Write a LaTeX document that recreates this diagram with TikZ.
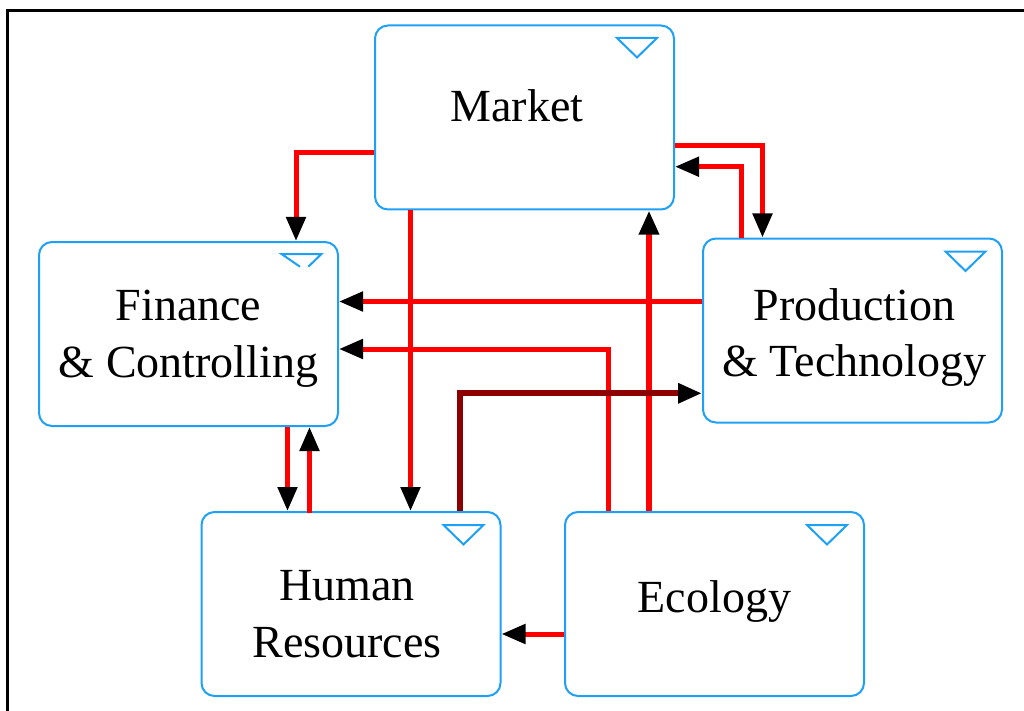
\documentclass[tikz,border=0pt]{standalone}
\usepackage{fontspec}
\setmainfont{Liberation Serif}
\usetikzlibrary{arrows.meta}
\definecolor{boxblue}{RGB}{30,160,245}
\definecolor{linered}{RGB}{255,0,0}
\definecolor{darkline}{RGB}{140,0,0}
\begin{document}
\begin{tikzpicture}[x=1pt,y=-1pt,
  box/.style={draw=boxblue,line width=2pt,rounded corners=13pt,minimum width=299pt,minimum height=184pt,inner sep=0pt},
  lbl/.style={font=\fontsize{46}{56}\selectfont,anchor=base,inner sep=0pt},
  tri/.style={draw=boxblue,line width=2pt,line join=miter},
  link/.style={draw=linered,line width=5pt,-{Triangle[length=24pt,width=19pt,color=black]}},
  dlink/.style={link,draw=darkline,line width=6pt}]
\useasboundingbox (0,0) rectangle (1024,711);
% frame
\draw[line width=3pt] (7.5,711) -- (7.5,10.5) -- (1024,10.5);
% boxes
\node[box] (market) at (524.5,117.5) {};
\node[box] (fin) at (188.5,334) {};
\node[box] (prod) at (852.5,330.5) {};
\node[box] (hr) at (351,604) {};
\node[box] (eco) at (714.5,604) {};
% corner markers
\draw[tri] ([shift={(-58pt,-13.5pt)}]market.north east) -- ++(40pt,0pt) -- ++(-20pt,-19.5pt) -- cycle;
\draw[tri] ([shift={(-57.5pt,-14pt)}]prod.north east) -- ++(40pt,0pt) -- ++(-20pt,-19.5pt) -- cycle;
\draw[tri] ([shift={(-58pt,-14pt)}]hr.north east) -- ++(40pt,0pt) -- ++(-20pt,-19.5pt) -- cycle;
\draw[tri] ([shift={(-58pt,-14pt)}]eco.north east) -- ++(40pt,0pt) -- ++(-20pt,-19.5pt) -- cycle;
\draw[tri] ([shift={(-39pt,-25.7pt)}]fin.north east) -- ([shift={(-57.5pt,-13pt)}]fin.north east) -- ([shift={(-17.5pt,-13pt)}]fin.north east) -- ([shift={(-30.7pt,-25.7pt)}]fin.north east);
% labels
\node[lbl] (mkt-t) at (517,121.7) {Market};
\node[lbl] (fin-t1) at (188.5,320) {Finance};
\node[lbl] (fin-t2) at (188.5,377) {\& Controlling};
\node[lbl] (prod-t1) at (854.5,320) {Production};
\node[lbl] (prod-t2) at (854.5,376.7) {\& Technology};
\node[lbl] (hr-t1) at (347,600.7) {Human};
\node[lbl] (hr-t2) at (347,657.3) {Resources};
\node[lbl] (eco-t) at (714.5,612.7) {Ecology};
% connectors
\draw[link] ([yshift=-35.5pt]market.west) -| ([xshift=107.5pt]fin.north);
\draw[link] ([yshift=-28.5pt]market.east) -| ([xshift=-90pt]prod.north);
\draw[link] ([xshift=-111pt]prod.north) |- ([yshift=-49.2pt]market.east);
\draw[link] ([xshift=-114pt]market.south) -- ([xshift=59.5pt]hr.north);
\draw[link,line width=6pt] ([xshift=-65.5pt]eco.north) -- ([xshift=124.5pt]market.south);
\draw[link] ([yshift=29pt]prod.west) -- ([yshift=32.5pt]fin.east);
\draw[link] ([xshift=-106.5pt]eco.north) |- ([yshift=-15pt]fin.east);
\draw[dlink] ([xshift=109.3pt]hr.north) |- ([yshift=-62.8pt]prod.west);
\draw[link] ([xshift=99pt]fin.south) -- ([xshift=-63.5pt]hr.north);
\draw[link] ([xshift=-41.5pt,yshift=-2pt]hr.north) -- ([xshift=121pt]fin.south);
\draw[link] ([yshift=-30pt]eco.west) -- ([yshift=-30pt]hr.east);
\end{tikzpicture}
\end{document}
